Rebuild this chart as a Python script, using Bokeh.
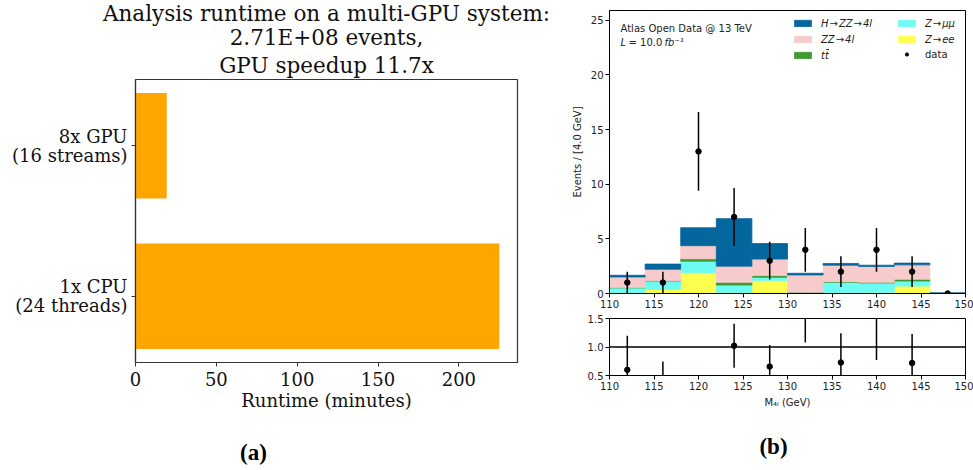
import numpy as np
from bokeh.plotting import figure
from bokeh.models import (Range1d, FixedTicker, Title, Legend, LegendItem, Label, Span,
                          ColumnDataSource, PrintfTickFormatter)
from bokeh.core.properties import value
from bokeh.layouts import row, column
from bokeh.embed import file_html
from bokeh.resources import INLINE

# ---------------- panel (a) data ----------------
configs = ["1x CPU\n(24 threads)", "8x GPU\n(16 streams)"]
runtime_minutes = [225.0, 19.3]
title_lines = ["Analysis runtime on a multi-GPU system:", "2.71E+08 events,", "GPU speedup 11.7x"]
runtime_ticks = [0, 50, 100, 150, 200]

# ---------------- panel (b) data ----------------
bin_centers = [112, 116, 120, 124, 128, 132, 136, 140, 144, 148]
z_ee    = [0.02, 0.37, 1.91, 0.08, 1.20, 0.02, 0.03, 0.06, 0.68, 0.01]
z_mumu  = [0.50, 0.77, 1.05, 0.69, 0.28, 0.06, 0.99, 0.90, 0.46, 0.01]
ttbar   = [0.02, 0.03, 0.22, 0.25, 0.16, 0.04, 0.06, 0.06, 0.16, 0.00]
zz_4l   = [0.97, 1.05, 1.20, 1.48, 1.51, 1.58, 1.51, 1.45, 1.32, 0.01]
h_zz_4l = [0.16, 0.47, 1.64, 4.35, 1.42, 0.15, 0.16, 0.12, 0.16, 0.02]
data_counts = [1, 1, 13, 7, 3, 4, 2, 4, 2, 0]
data_errors = [1.0, 1.0, 3.6, 2.65, 1.73, 2.0, 1.41, 2.0, 1.41, 0.0]
mass_ticks = [110, 115, 120, 125, 130, 135, 140, 145, 150]
events_ticks = [0, 5, 10, 15, 20, 25]
ratio_ticks = [0.5, 1.0, 1.5]

captions = ["(a)", "(b)"]

SERIF = "DejaVu Serif"
SANS = "DejaVu Sans"

# ================= panel (a) =================
pa = figure(width=560, height=430, x_range=Range1d(0, 236.25), y_range=Range1d(-0.44, 1.44),
            output_backend="svg", toolbar_location=None,
            min_border_left=135, min_border_right=43, min_border_top=79, min_border_bottom=68)
pa.hbar(y=list(range(len(configs))), right=runtime_minutes, height=0.7,
        fill_color="#ffa500", line_color=None)
pa.yaxis.ticker = FixedTicker(ticks=list(range(len(configs))))
pa.yaxis.major_label_overrides = {i: c for i, c in enumerate(configs)}
pa.xaxis.ticker = FixedTicker(ticks=runtime_ticks)
pa.xaxis.axis_label = "Runtime (minutes)"
for ax in [pa.xaxis[0], pa.yaxis[0]]:
    ax.major_label_text_font = SERIF
    ax.major_label_text_font_size = "18px"
    ax.major_label_text_color = "#111111"
    ax.major_label_text_line_height = 0.9
    ax.axis_label_text_font = SERIF
    ax.axis_label_text_font_size = "18px"
    ax.axis_label_text_font_style = "normal"
    ax.axis_label_text_color = "#111111"
    ax.axis_line_color = "#333333"
    ax.axis_line_width = 1.2
    ax.major_tick_line_color = "#333333"
    ax.major_tick_in = 0
    ax.major_tick_out = 4
    ax.minor_tick_line_color = None
pa.yaxis.major_label_standoff = 4
pa.xaxis.major_label_standoff = 5
pa.xaxis.axis_label_standoff = 1
pa.grid.grid_line_color = None
pa.outline_line_color = "#333333"
pa.outline_line_width = 1.2

# stacked title lines: p.title is outermost; first added Title is closest to the frame
pa.title.text = title_lines[0]
t_last = Title(text=title_lines[2])
t_mid = Title(text=title_lines[1])
for t in (pa.title, t_mid, t_last):
    t.align = "center"
    t.text_font = SERIF
    t.text_font_size = "21.5px"
    t.text_font_style = "normal"
    t.text_color = "#111111"
    t.standoff = -3
t_last.standoff = 4
pa.add_layout(t_last, "above")
pa.add_layout(t_mid, "above")

# ================= panel (b) top =================
pb = figure(width=413, height=312, x_range=Range1d(110, 150), y_range=Range1d(0, 25.9),
            output_backend="svg", toolbar_location=None,
            min_border_left=49, min_border_right=8, min_border_top=10, min_border_bottom=19)
src = ColumnDataSource(dict(x=bin_centers, zee=z_ee, zmm=z_mumu, tt=ttbar, zz=zz_4l, hzz=h_zz_4l))
colors = ["#ffff50", "#6cfcf4", "#3f9a2f", "#f7cbcb", "#03669c"]
rs = pb.vbar_stack(["zee", "zmm", "tt", "zz", "hzz"], x="x", width=4, source=src,
                   fill_color=colors, line_color=colors, line_width=0.8)

d_lo = [d - e for d, e in zip(data_counts, data_errors)]
d_hi = [d + e for d, e in zip(data_counts, data_errors)]
pb.segment(x0=bin_centers, y0=d_lo, x1=bin_centers, y1=d_hi, line_color="black", line_width=1.5)
dots = pb.scatter(bin_centers, data_counts, size=5.5, color="black")

pb.xaxis.ticker = FixedTicker(ticks=mass_ticks)
pb.yaxis.ticker = FixedTicker(ticks=events_ticks)
pb.yaxis.axis_label = "Events / [4.0 GeV]"

mc_total = np.array(z_ee) + np.array(z_mumu) + np.array(ttbar) + np.array(zz_4l) + np.array(h_zz_4l)
ratio = np.array(data_counts) / mc_total
ratio_err = np.array(data_errors) / mc_total

# ================= panel (b) ratio =================
pr = figure(width=413, height=118, x_range=Range1d(110, 150), y_range=Range1d(0.5, 1.5),
            output_backend="svg", toolbar_location=None,
            min_border_left=49, min_border_right=8, min_border_top=6, min_border_bottom=55)
pr.add_layout(Span(location=1.0, dimension="width", line_color="black", line_width=1.5))
pr.segment(x0=bin_centers, y0=ratio - ratio_err, x1=bin_centers, y1=ratio + ratio_err,
           line_color="black", line_width=1.5)
pr.scatter(bin_centers, ratio, size=5.5, color="black")
pr.xaxis.ticker = FixedTicker(ticks=mass_ticks)
pr.yaxis.ticker = FixedTicker(ticks=ratio_ticks)
pr.yaxis.formatter = PrintfTickFormatter(format="%.1f")
pr.xaxis.axis_label = "M\u2084\u2097 (GeV)"

for p in (pb, pr):
    p.grid.grid_line_color = None
    p.outline_line_color = "black"
    p.outline_line_width = 1
    for ax in [p.xaxis[0], p.yaxis[0]]:
        ax.major_label_text_font = SANS
        ax.major_label_text_font_size = "10px"
        ax.major_label_text_color = "#222222"
        ax.axis_label_text_font = SANS
        ax.axis_label_text_font_size = "10px"
        ax.axis_label_text_font_style = "normal"
        ax.axis_label_text_color = "#222222"
        ax.axis_line_color = "black"
        ax.major_tick_line_color = "black"
        ax.major_tick_in = 0
        ax.major_tick_out = 4
        ax.minor_tick_line_color = None
        ax.major_label_standoff = 2
pr.xaxis.axis_label_standoff = 4

# legends
leg_common = dict(label_text_font=SANS, label_text_font_size="10px", glyph_width=21,
                  glyph_height=8, label_height=12, spacing=4, padding=0, margin=0,
                  border_line_color=None, background_fill_alpha=0, label_standoff=8,
                  label_text_color="#222222")
leg1 = Legend(items=[LegendItem(label="H\u200a\u2192\u200aZZ\u200a\u2192\u200a4l", renderers=[rs[4]]),
                     LegendItem(label="ZZ\u200a\u2192\u200a4l", renderers=[rs[3]]),
                     LegendItem(label="tt\u0304", renderers=[rs[2]])],
              location=(183, 232), label_text_font_style="italic", **leg_common)
leg2 = Legend(items=[LegendItem(label="Z\u200a\u2192\u200a\u03bc\u03bc", renderers=[rs[1]]),
                     LegendItem(label="Z\u200a\u2192\u200aee", renderers=[rs[0]])],
              location=(287, 248), label_text_font_style="italic", **leg_common)
leg3 = Legend(items=[LegendItem(label="data", renderers=[dots])],
              location=(287, 233), label_text_font_style="normal", **leg_common)
for lg in (leg1, leg2, leg3):
    pb.add_layout(lg)

pb.add_layout(Label(x=111.24, y=24.25, text="Atlas Open Data @ 13 TeV", text_font=SANS,
                    text_font_size="10px", text_baseline="middle", text_color="#222222"))
pb.add_layout(Label(x=111.24, y=22.97, text="L", text_font=SANS, text_font_style="italic",
                    text_font_size="10px", text_baseline="middle", text_color="#222222"))
pb.add_layout(Label(x=111.24, y=22.97, x_offset=8, text="= 10.0", text_font=SANS,
                    text_font_size="10px", text_baseline="middle", text_color="#222222"))
pb.add_layout(Label(x=111.24, y=22.97, x_offset=44, text="fb\u207b\u00b9", text_font=SANS,
                    text_font_style="italic", text_font_size="10px", text_baseline="middle",
                    text_color="#222222"))

# ================= caption strip =================
ps = figure(width=973, height=39, x_range=Range1d(0, 973), y_range=Range1d(0, 39),
            output_backend="svg", toolbar_location=None, x_axis_type=None, y_axis_type=None,
            min_border=0)
ps.outline_line_color = None
ps.text(x=[253, 773], y=[17, 23], text=captions, text_font=value("Liberation Serif"),
        text_font_style="bold", text_font_size="23px", text_align="center",
        text_baseline="middle", text_color="black")

layout = column(row(pa, column(pb, pr)), ps)
open("out.html", "w").write(file_html(layout, INLINE))
